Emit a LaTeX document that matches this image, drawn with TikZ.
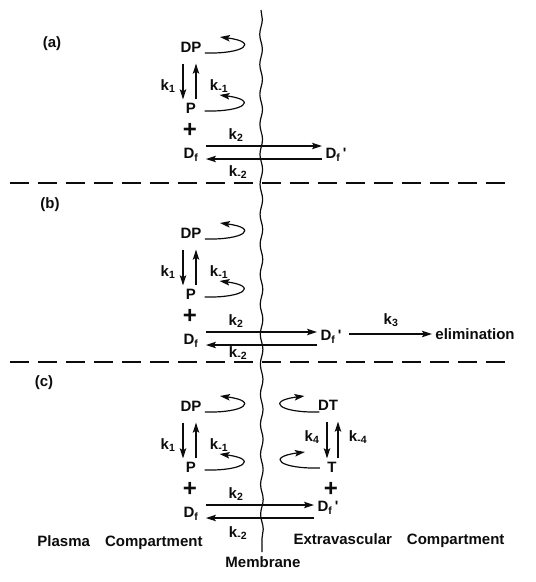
\documentclass[tikz,border=0pt]{standalone}
\usepackage{fontspec}
\setmainfont{Liberation Sans}
\usetikzlibrary{arrows.meta, decorations.pathmorphing}
\definecolor{InkBlack}{RGB}{12,12,12}

\begin{document}
\begin{tikzpicture}[x=1pt, y=-1pt, font=\fontsize{15}{18}\selectfont\bfseries,
    rx/.style={-{Stealth[length=10pt,width=6.5pt,inset=2pt]}, line width=1.2pt, InkBlack},
    lbl/.style={text=InkBlack},
    plus/.style={text=InkBlack, inner sep=0pt, font=\fontsize{24}{24}\selectfont\bfseries},
    curl/.pic={\draw[rx] (0,0) .. controls (40,1) and (54,-11) .. (15,-16);}]
  \useasboundingbox (0,0) rectangle (536,582);
  % Membrane
  \draw[InkBlack, line width=1.2pt, decorate,
        decoration={snake, amplitude=1.3pt, segment length=30pt}] (261,10) -- (262,552);
  % Panel separators
  \foreach \y in {183,362} {
    \draw[InkBlack, line width=1.2pt, dash pattern=on 19pt off 9pt] (10,\y) -- (505,\y);
  }
  % Plasma side of the three panels
  \foreach \p/\y/\x/\v/\lx/\ly/\m in {a/0/336/155/52/44/172, b/186/331/151/50/19/167, c/359/328/149/44/24/174} {
    \node[lbl] (tag\p) at (\lx,{\ly+\y}) {(\p)};
    \node[lbl] (DP\p) at (191,{47+\y}) {DP};
    \node[lbl] (P\p) at (191,{108+\y}) {P};
    \node[plus] (plus\p) at (190,{130+\y}) {+};
    \node[lbl] (Df\p) at (191,{155+\y}) {D\textsubscript{f}};
    \node[lbl] (Dfp\p) at (\x,{\v+\y}) {D\textsubscript{f}\,\textquotesingle};
    \node[lbl] (kone\p) at (168,{86+\y}) {k\textsubscript{1}};
    \node[lbl] (kmone\p) at (219,{86+\y}) {k\textsubscript{-1}};
    \node[lbl] (ktwo\p) at (236,{135+\y}) {k\textsubscript{2}};
    \node[lbl] (kmtwo\p) at (238,{\m+\y}) {k\textsubscript{-2}};
    \pic at ([yshift=-6pt]DP\p.east) {curl};
    \pic at ([shift={(5,3)}]P\p.east) {curl};
    \draw[rx] ([xshift=-8pt,yshift=-8pt]DP\p.south) -- ([xshift=-8pt]DP\p.south |- P\p.north);
    \draw[rx] ([xshift=5pt]DP\p.south |- P\p.north) -- ([xshift=5pt,yshift=-8pt]DP\p.south);
    \draw[rx] ([shift={(4,-9)}]Df\p.east) -- ([yshift=9pt]Df\p.east -| Dfp\p.west);
    \draw[rx] ([yshift=-4pt]Df\p.east -| Dfp\p.west) -- ([shift={(4,4)}]Df\p.east);
  }
  % Elimination in (b)
  \node[lbl] (elim) at (475,334) {elimination};
  \node[lbl] (kthree) at (391,320) {k\textsubscript{3}};
  \draw[rx] ([xshift=4pt]Dfpb.east |- elim.west) -- (elim.west);
  % Tissue binding in (c)
  \node[lbl] (DTc) at (328,405) {DT};
  \node[lbl] (Tc) at (332,467) {T};
  \node[plus] (plusTc) at (331,489) {+};
  \node[lbl] (kfour) at (312,437) {k\textsubscript{4}};
  \node[lbl] (kmfour) at (358,437) {k\textsubscript{-4}};
  \pic[xscale=-1] at ([shift={(5,7)}]DTc.west) {curl};
  \pic[xscale=-1] at ([shift={(-4,1)}]Tc.west) {curl};
  \draw[rx] ([xshift=-1pt,yshift=-8pt]DTc.south) -- ([xshift=-1pt]DTc.south |- Tc.north);
  \draw[rx] ([xshift=10pt]DTc.south |- Tc.north) -- ([xshift=10pt,yshift=-8pt]DTc.south);
  % Compartments
  \node[lbl] (plasma) at (120,543) {Plasma\hspace{1em}Compartment};
  \node[lbl] (extra) at (399,541) {Extravascular\hspace{1em}Compartment};
  \node[lbl] (membrane) at (263,562) {Membrane};
\end{tikzpicture}
\end{document}
